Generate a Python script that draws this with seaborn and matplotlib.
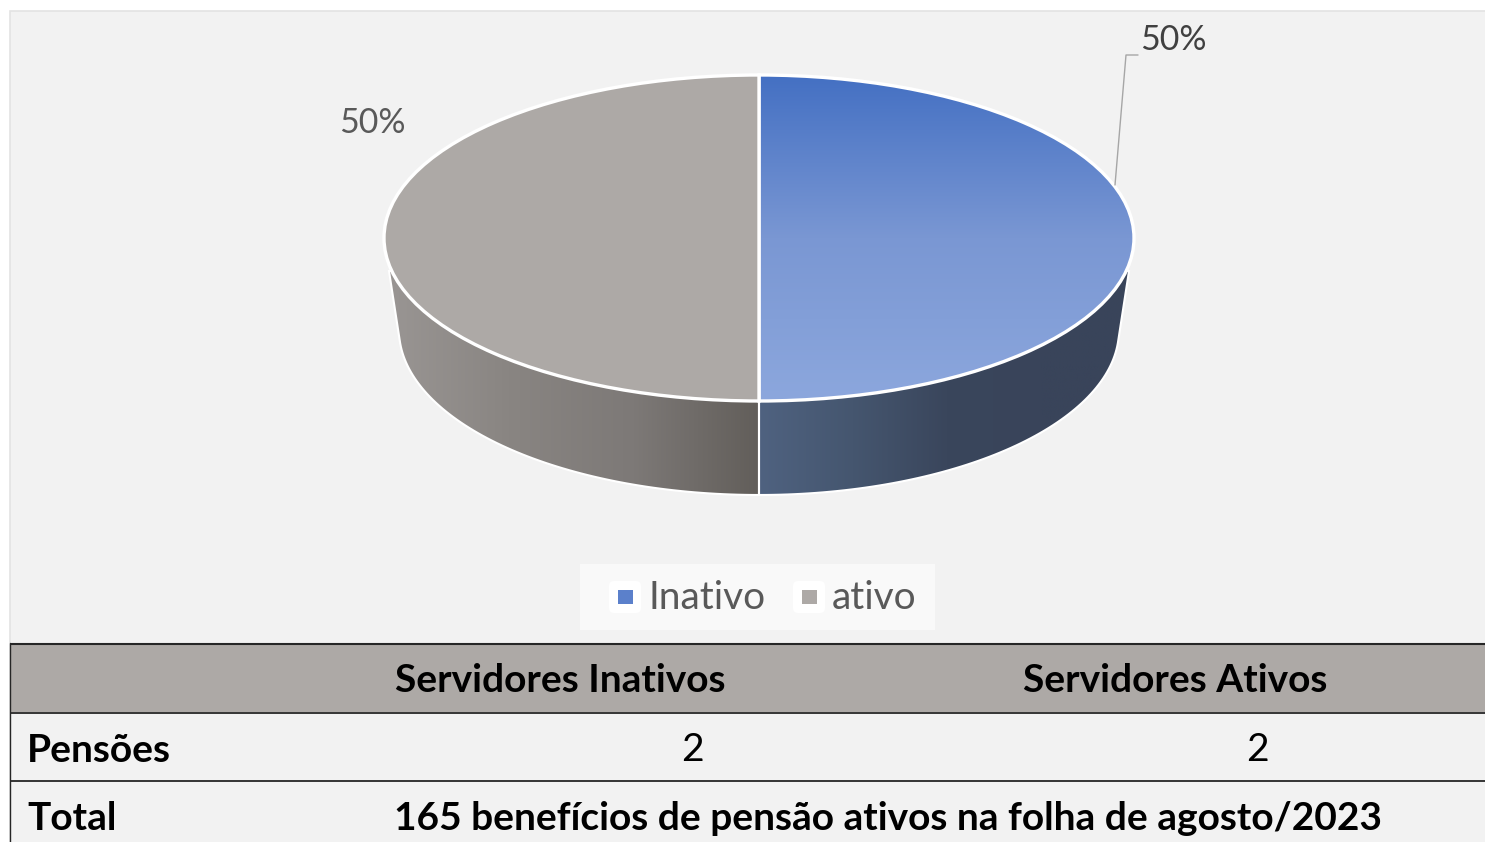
import numpy as np
import matplotlib
matplotlib.use("Agg")
import matplotlib.pyplot as plt
from matplotlib.patches import Polygon, Rectangle, FancyBboxPatch
import seaborn as sns

# data
labels = ['Inativo', 'ativo']
pensoes = [2, 2]
table_header = ['Servidores Inativos', 'Servidores Ativos']
row_name = 'Pensões'
total_name = 'Total'
total_text = '165 benefícios de pensão ativos na folha de agosto/2023'

sns.set_theme(style="white")
plt.rcParams['font.family'] = ['Lato', 'DejaVu Sans']

W, H = 1485, 842
PANEL = '#f2f2f2'
GRAY = '#ada9a6'
top_blue = sns.blend_palette(['#4470c3', '#7a97d3', '#8ca7dd'], as_cmap=True)
wall_cmaps = [
    sns.blend_palette(['#4f6280', '#45566f', '#3a465c', '#39445a', '#39445a'], as_cmap=True),
    sns.blend_palette(['#9a9694', '#898582', '#7d7977', '#625e5a'], as_cmap=True),
]

fig = plt.figure(figsize=(W / 100, H / 100), dpi=100, facecolor='white')
ax = fig.add_axes([0, 0, 1, 1])
ax.set_xlim(0, W)
ax.set_ylim(H, 0)
ax.axis('off')

# panel behind everything
ax.add_patch(Rectangle((10, 11), W, H, fc=PANEL, ec='#e3e3e3', lw=1.2))

# side wall of the pie, lower ellipse is a bit smaller than the top face
cx, cy, rx, ry = 759, 238, 375, 163
ly, lrx, lry = 330, 360, 165
shares = np.array(pensoes) / sum(pensoes)
edges = 90 - np.concatenate([[0], np.cumsum(shares)]) * 360
for i, share in enumerate(shares):
    # only the part of the slice in the front half of the pie shows a wall
    low, high = max(edges[i + 1], -180), min(edges[i], 0)
    front = np.radians(np.linspace(low, high, 80))
    front = front[np.abs(np.cos(front)) < 0.998]
    arc = sorted(zip(cx + lrx * np.cos(front), ly - lry * np.sin(front)),
                 key=lambda p: -abs(p[0] - cx))
    side = 1 if arc[0][0] > cx else -1
    pts = [(cx, cy), (cx + side * 370, cy + 33)] + arc + [(cx, ly + lry)]
    poly = Polygon(pts, closed=True, fc='none', ec='white', lw=1.5, zorder=3)
    ax.add_patch(poly)
    left, right = (cx, cx + 375) if side > 0 else (cx - 375, cx)
    grad = np.linspace(0, 1, 256).reshape(1, -1)
    im = ax.imshow(grad, cmap=wall_cmaps[i], extent=(left, right, ly + lry, cy),
                   aspect='auto', zorder=2)
    im.set_clip_path(poly)
ax.set_xlim(0, W)
ax.set_ylim(H, 0)

# top face of the pie
pie_ax = fig.add_axes([(cx - rx) / W, 1 - (cy + ry) / H, 2 * rx / W, 2 * ry / H], zorder=2)
wedges, _ = pie_ax.pie(pensoes, startangle=90, counterclock=False, radius=1,
                       colors=['none', GRAY],
                       wedgeprops={'edgecolor': 'white', 'linewidth': 2.4, 'clip_on': False, 'zorder': 3})
grad = np.linspace(0, 1, 256).reshape(-1, 1)
im = pie_ax.imshow(grad, cmap=top_blue, extent=(-1, 1, -1, 1), origin='upper', aspect='auto', zorder=2)
im.set_clip_path(wedges[0])
pie_ax.set_aspect('auto')
pie_ax.set_xlim(-1, 1)
pie_ax.set_ylim(-1, 1)
pie_ax.axis('off')

# data labels, everything else sits on top of the pie
txt = fig.add_axes([0, 0, 1, 1], zorder=3)
txt.set_xlim(0, W)
txt.set_ylim(H, 0)
txt.axis('off')
txt.patch.set_alpha(0)

txt.plot([1115, 1126, 1138], [185, 55, 55], color='#a6a6a6', lw=1)
txt.text(1140, 40, f'{shares[0]:.0%}', fontsize=24.4, color='#404040', va='center', ha='left')
txt.text(372, 123, f'{shares[1]:.0%}', fontsize=24.4, color='#595959', va='center', ha='center')

# legend
txt.add_patch(Rectangle((580, 564), 355, 66, fc='#f9f9f9', ec='none'))
for x0, text_x, lab, col in [(609, 648, labels[0], '#5b80cb'), (793, 832, labels[1], GRAY)]:
    txt.add_patch(FancyBboxPatch((x0 + 3, 584), 26, 26, boxstyle='round,pad=3,rounding_size=5',
                                 fc='white', ec='none'))
    txt.add_patch(Rectangle((x0 + 9, 590), 15, 14, fc=col, ec='none'))
    txt.text(text_x, 598, lab, fontsize=28, color='#595959', va='center', ha='left')

# table below the chart
txt.add_patch(Rectangle((10, 644), W - 10, 68, fc=GRAY, ec='none'))
for y, lw in [(643.5, 1.5), (712.5, 1.3), (781, 1.3)]:
    txt.plot([10, W], [y, y], color='#262626', lw=lw, solid_capstyle='butt')
txt.plot([10, 10], [643, H], color='#262626', lw=1)

txt.text(560, 681, table_header[0], fontsize=28, fontweight='bold', color='black', ha='center', va='center')
txt.text(1175, 681, table_header[1], fontsize=28, fontweight='bold', color='black', ha='center', va='center')
txt.text(27, 750, row_name, fontsize=28, fontweight='bold', color='black', ha='left', va='center')
txt.text(692, 750, str(pensoes[0]), fontsize=28, color='black', ha='center', va='center')
txt.text(1257, 750, str(pensoes[1]), fontsize=28, color='black', ha='center', va='center')
txt.text(27, 818, total_name, fontsize=28, fontweight='bold', color='black', ha='left', va='center')
txt.text(888, 818, total_text, fontsize=28, fontweight='bold', color='black', ha='center', va='center')

fig.savefig('out.png', dpi=100, facecolor='white')
